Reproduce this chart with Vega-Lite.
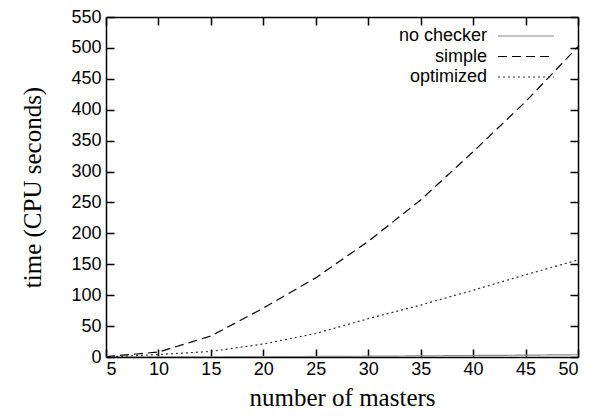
{
  "$schema": "https://vega.github.io/schema/vega-lite/v6.json",
  "width": 472,
  "height": 340,
  "autosize": "none",
  "padding": {"left": 106, "top": 17, "right": 22, "bottom": 60},
  "background": "white",
  "config": {
    "view": {"stroke": null},
    "axis": {
      "grid": false,
      "domainColor": "black",
      "domainWidth": 1.5,
      "tickColor": "black",
      "tickWidth": 1.5,
      "tickSize": -8,
      "labelFont": "Liberation Sans",
      "labelFontSize": 18,
      "labelColor": "black",
      "titleFont": "Liberation Serif",
      "titleFontSize": 25,
      "titleFontWeight": "normal",
      "titleColor": "black"
    }
  },
  "data": {
    "values": [
      {"masters": 5, "time": 0.1, "series": "no checker"},
      {"masters": 10, "time": 0.2, "series": "no checker"},
      {"masters": 15, "time": 0.4, "series": "no checker"},
      {"masters": 20, "time": 0.6, "series": "no checker"},
      {"masters": 25, "time": 0.9, "series": "no checker"},
      {"masters": 30, "time": 1.3, "series": "no checker"},
      {"masters": 35, "time": 1.8, "series": "no checker"},
      {"masters": 40, "time": 2.4, "series": "no checker"},
      {"masters": 45, "time": 3.0, "series": "no checker"},
      {"masters": 50, "time": 3.7, "series": "no checker"},
      {"masters": 5, "time": 0.5, "series": "simple"},
      {"masters": 10, "time": 8, "series": "simple"},
      {"masters": 15, "time": 34, "series": "simple"},
      {"masters": 20, "time": 79, "series": "simple"},
      {"masters": 25, "time": 128, "series": "simple"},
      {"masters": 30, "time": 187, "series": "simple"},
      {"masters": 35, "time": 254, "series": "simple"},
      {"masters": 40, "time": 332, "series": "simple"},
      {"masters": 45, "time": 413, "series": "simple"},
      {"masters": 50, "time": 502, "series": "simple"},
      {"masters": 5, "time": 0.3, "series": "optimized"},
      {"masters": 10, "time": 4, "series": "optimized"},
      {"masters": 15, "time": 9, "series": "optimized"},
      {"masters": 20, "time": 21, "series": "optimized"},
      {"masters": 25, "time": 38, "series": "optimized"},
      {"masters": 30, "time": 62, "series": "optimized"},
      {"masters": 35, "time": 84, "series": "optimized"},
      {"masters": 40, "time": 108, "series": "optimized"},
      {"masters": 45, "time": 133, "series": "optimized"},
      {"masters": 50, "time": 157, "series": "optimized"}
    ]
  },
  "layer": [
    {
      "mark": {"type": "line", "strokeWidth": 1.2, "clip": true},
      "encoding": {
        "x": {
          "field": "masters", "type": "quantitative",
          "scale": {"domain": [5, 50], "nice": false, "zero": false},
          "axis": {"values": [5,10,15,20,25,30,35,40,45,50], "title": "number of masters", "labelPadding": 11, "titlePadding": 7}
        },
        "y": {
          "field": "time", "type": "quantitative",
          "scale": {"domain": [0, 550], "nice": false},
          "axis": {"values": [0,50,100,150,200,250,300,350,400,450,500,550], "title": "time (CPU seconds)", "labelPadding": 13, "titlePadding": 25}
        },
        "color": {
          "field": "series", "type": "nominal",
          "scale": {"domain": ["no checker", "simple", "optimized"], "range": ["#888888", "#000000", "#333333"]},
          "legend": {
            "title": null,
            "orient": "none",
            "legendX": 409,
            "legendY": 8,
            "symbolType": "M-2.8,0H2.8",
            "symbolSize": 400,
            "symbolStrokeWidth": 1.2,
            "symbolFillColor": "transparent",
            "labelAlign": "right",
            "labelOffset": -50,
            "labelFont": "Liberation Sans",
            "labelFontSize": 18,
            "labelColor": "black",
            "rowPadding": 0.5,
            "padding": 0
          }
        },
        "strokeDash": {
          "field": "series", "type": "nominal",
          "scale": {"domain": ["no checker", "simple", "optimized"], "range": [[1, 0], [9, 5], [2, 3]]},
          "legend": null
        }
      }
    },
    {
      "mark": {"type": "point", "opacity": 0},
      "encoding": {
        "x": {
          "field": "masters", "type": "quantitative",
          "axis": {"orient": "top", "values": [5,10,15,20,25,30,35,40,45,50], "labels": false, "title": null}
        },
        "y": {
          "field": "time", "type": "quantitative",
          "axis": {"orient": "right", "values": [0,50,100,150,200,250,300,350,400,450,500,550], "labels": false, "title": null}
        }
      }
    }
  ],
  "resolve": {"axis": {"x": "independent", "y": "independent"}}
}
